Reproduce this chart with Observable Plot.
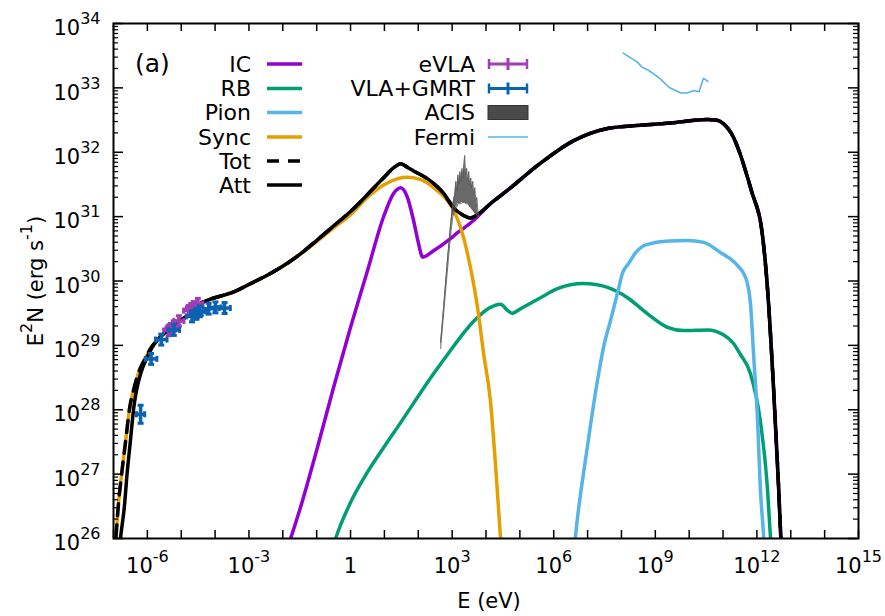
<!DOCTYPE html>
<html><head><meta charset="utf-8">
<script src="https://cdn.jsdelivr.net/npm/d3@7"></script>
<script src="https://cdn.jsdelivr.net/npm/@observablehq/plot@0.6"></script>
<style>body{margin:0;background:#fff} svg{display:block}</style>
</head><body><div id="chart"></div>
<script>
// ---- data: pairs of [log10 E (eV), log10 E^2N (erg s^-1)] ----
const icSeries = [[-1.9,25.8],[-1.77,26.0],[-1.48,26.48],[-0.98,27.41],[-0.5,28.35],[0,29.28],[0.5,30.16],[0.97,30.99],[1.27,31.36],[1.48,31.45],[1.68,31.3],[1.86,30.94],[2.0,30.6],[2.13,30.37],[2.45,30.47],[2.95,30.66],[3.16,30.75],[3.63,30.94],[3.75,31.0],[4.13,31.2],[4.64,31.41],[5.61,31.83],[6.59,32.18],[7.59,32.37],[8.56,32.42],[9.54,32.46],[10.54,32.51],[10.8,32.5],[11.0,32.45],[11.31,32.23],[11.5,31.98],[11.7,31.65],[11.9,31.3],[12.0,31.15],[12.1,30.94],[12.31,29.9],[12.49,28.35],[12.64,26.8],[12.7,26.08],[12.75,25.5]];
const rbSeries = [[-0.5,25.9],[-0.44,26.0],[0.0,26.56],[0.5,27.03],[1.0,27.43],[1.48,27.8],[2.45,28.56],[2.95,28.92],[3.16,29.07],[3.63,29.37],[4.13,29.59],[4.43,29.64],[4.64,29.54],[4.78,29.5],[5.02,29.57],[5.61,29.74],[6.11,29.88],[6.88,29.96],[7.59,29.9],[8.18,29.74],[8.77,29.49],[9.36,29.28],[9.84,29.23],[10.54,29.24],[11.0,29.17],[11.31,29.03],[11.5,28.87],[11.81,28.56],[12.1,27.83],[12.31,26.79],[12.4,26.02],[12.45,25.5]];
const pionSeries = [[6.6,25.8],[6.64,26.02],[6.99,27.41],[7.29,28.45],[7.47,28.97],[7.68,29.39],[7.9,29.85],[8.03,30.12],[8.21,30.27],[8.42,30.44],[8.6,30.53],[8.86,30.58],[9.4,30.62],[9.95,30.63],[10.43,30.6],[10.93,30.44],[11.2,30.35],[11.43,30.24],[11.67,30.05],[11.81,29.65],[11.9,28.87],[12.02,27.83],[12.1,26.79],[12.2,26.02],[12.25,25.5]];
const syncSeries = [[-6.97,25.7],[-6.93,26.0],[-6.86,26.5],[-6.76,27.0],[-6.64,27.52],[-6.52,28.04],[-6.41,28.3],[-6.27,28.56],[-6.04,28.82],[-5.88,28.97],[-5.71,29.08],[-5.41,29.23],[-5.02,29.39],[-4.73,29.49],[-4.43,29.65],[-4.23,29.7],[-3.45,29.83],[-2.95,29.96],[-2.46,30.09],[-1.97,30.24],[-1.48,30.42],[-0.98,30.62],[-0.49,30.83],[0,31.03],[0.5,31.3],[1.0,31.5],[1.4,31.59],[1.68,31.61],[2.1,31.57],[2.45,31.45],[2.86,31.25],[3.04,31.1],[3.25,30.83],[3.54,30.21],[3.75,29.59],[3.93,28.87],[4.13,28.14],[4.3,27.0],[4.43,26.0],[4.5,25.5]];
const totSeries = [[-6.97,25.7],[-6.93,26.0],[-6.86,26.5],[-6.76,27.0],[-6.64,27.52],[-6.52,28.04],[-6.41,28.3],[-6.27,28.56],[-6.04,28.82],[-5.88,28.97],[-5.71,29.08],[-5.41,29.23],[-5.02,29.39],[-4.73,29.49],[-4.43,29.65],[-4.23,29.7],[-3.45,29.83],[-2.95,29.96],[-2.46,30.09],[-1.97,30.24],[-1.48,30.42],[-0.98,30.64],[-0.49,30.86],[0,31.08],[0.97,31.6],[1.3,31.77],[1.48,31.82],[1.7,31.76],[1.86,31.71],[2.27,31.59],[2.75,31.36],[3.04,31.14],[3.3,31.03],[3.54,30.98],[3.8,31.05],[4.13,31.2],[4.64,31.41],[5.61,31.83],[6.59,32.18],[7.59,32.37],[8.56,32.42],[9.54,32.46],[10.54,32.51],[10.8,32.5],[11.0,32.45],[11.31,32.23],[11.5,31.98],[11.7,31.65],[11.9,31.3],[12.0,31.15],[12.1,30.94],[12.31,29.9],[12.49,28.35],[12.64,26.8],[12.7,26.08],[12.75,25.5]];
const attSeries = [[-6.85,25.7],[-6.79,26.02],[-6.68,26.49],[-6.60,27.0],[-6.50,27.52],[-6.40,28.04],[-6.32,28.30],[-6.20,28.56],[-6.00,28.82],[-5.86,28.97],[-5.71,29.08],[-5.41,29.23],[-5.02,29.39],[-4.73,29.49],[-4.43,29.65],[-4.23,29.7],[-3.45,29.83],[-2.95,29.96],[-2.46,30.09],[-1.97,30.24],[-1.48,30.42],[-0.98,30.64],[-0.49,30.86],[0,31.08],[0.97,31.6],[1.3,31.77],[1.48,31.82],[1.7,31.76],[1.86,31.71],[2.27,31.59],[2.75,31.36],[3.04,31.14],[3.3,31.03],[3.54,30.98],[3.8,31.05],[4.13,31.2],[4.64,31.41],[5.61,31.83],[6.59,32.18],[7.59,32.37],[8.56,32.42],[9.54,32.46],[10.54,32.51],[10.8,32.5],[11.0,32.45],[11.31,32.23],[11.5,31.98],[11.7,31.65],[11.9,31.3],[12.0,31.15],[12.1,30.94],[12.31,29.9],[12.49,28.35],[12.64,26.8],[12.7,26.08],[12.75,25.5]];
// radio points: [log10 E, log10 E^2N, half-width (dex), half-height (dex)]
const evlaPoints = [[-5.37,29.23,0.15,0.08],[-5.3,29.26,0.15,0.08],[-5.22,29.3,0.15,0.08],[-5.07,29.38,0.15,0.08],[-4.78,29.54,0.15,0.08],[-4.7,29.57,0.15,0.08],[-4.63,29.6,0.15,0.08],[-4.51,29.65,0.15,0.08]];
const vlaGmrtPoints = [[-6.2,27.93,0.12,0.14],[-5.89,28.79,0.17,0.085],[-5.59,29.09,0.17,0.085],[-5.22,29.24,0.17,0.085],[-4.68,29.45,0.17,0.085],[-4.55,29.49,0.17,0.085],[-4.45,29.53,0.17,0.085],[-4.19,29.57,0.17,0.085],[-3.99,29.59,0.17,0.085],[-3.72,29.58,0.17,0.085]];
// ACIS band: log10 E, lower, upper
const acisLogE = [2.66,2.75,2.85,2.95,3.02,3.08,3.11,3.14,3.17,3.2,3.23,3.26,3.29,3.32,3.35,3.37,3.40,3.43,3.46,3.49,3.52,3.55,3.58,3.61,3.64,3.67,3.70,3.73,3.76,3.78];
const acisHi   = [29.05,29.6,30.25,30.85,31.2,31.35,31.55,31.4,31.65,31.5,31.7,31.55,31.75,31.6,31.8,31.95,31.65,31.75,31.55,31.7,31.5,31.6,31.45,31.55,31.35,31.45,31.25,31.3,31.1,31.0];
const acisLo   = [28.95,29.5,30.1,30.7,31.0,31.1,31.15,31.15,31.2,31.2,31.2,31.2,31.22,31.22,31.22,31.22,31.2,31.2,31.2,31.18,31.15,31.15,31.12,31.1,31.08,31.05,31.05,31.02,31.0,30.98];
const fermiSeries = [[8.05,33.54],[8.32,33.45],[8.47,33.40],[8.61,33.32],[8.81,33.27],[9.15,33.14],[9.40,33.01],[9.75,32.92],[9.94,32.92],[10.14,32.96],[10.29,32.94],[10.42,33.15],[10.55,33.10]];
// ticks
const xTickExps = [-6,-3,0,3,6,9,12,15];
const yTickExps = [26,27,28,29,30,31,32,33,34];
const legendLeft = ["IC","RB","Pion","Sync","Tot","Att"];
const legendRight = ["eVLA","VLA+GMRT","ACIS","Fermi"];

const C = {IC:"#9400d3", RB:"#009e73", Pion:"#56b4e9", Sync:"#e69f00", Tot:"#000", Att:"#000", eVLA:"#a03cb4", VLA:"#0a62b0", ACIS:"#444", Fermi:"#56b4e9"};

const toObj = arr => arr.map(([e,n]) => ({E: 10**e, N: 10**n}));
const toPts = arr => arr.map(([e,n,dx,dy]) => ({E:10**e, N:10**n, x1:10**(e-dx), x2:10**(e+dx), y1:10**(n-dy), y2:10**(n+dy)}));
const acis = acisLogE.map((e,i) => ({E:10**e, lo:10**acisLo[i], hi:10**acisHi[i]}));

const vcap = {draw(ctx, size){ const l = Math.sqrt(size/Math.PI); ctx.moveTo(0,-l); ctx.lineTo(0,l); }};
const hcap = {draw(ctx, size){ const l = Math.sqrt(size/Math.PI); ctx.moveTo(-l,0); ctx.lineTo(l,0); }};

function errMarks(pts, color){
  const d = toPts(pts);
  return [
    Plot.link(d, {x1:"x1", x2:"x2", y1:"N", y2:"N", stroke:color, strokeWidth:3.5}),
    Plot.link(d, {x1:"E", x2:"E", y1:"y1", y2:"y2", stroke:color, strokeWidth:3.5}),
    Plot.dot(d, {x:"x1", y:"N", symbol:vcap, r:3, stroke:color, fill:"none", strokeWidth:3}),
    Plot.dot(d, {x:"x2", y:"N", symbol:vcap, r:3, stroke:color, fill:"none", strokeWidth:3}),
    Plot.dot(d, {x:"E", y:"y1", symbol:hcap, r:3, stroke:color, fill:"none", strokeWidth:3}),
    Plot.dot(d, {x:"E", y:"y2", symbol:hcap, r:3, stroke:color, fill:"none", strokeWidth:3})
  ];
}

const FW = 745, FH = 515;
const yMajor = yTickExps.map(k => 10**k);
const yMinor = [];
for (let k = 26; k < 34; k++) for (let m = 2; m <= 9; m++) yMinor.push(m * 10**k);
const xMajor = d3.range(-7, 16).map(k => 10**k);
const fmt = k => k === 0 ? "1" : "10^" + k;

const lineOpts = (color, extra={}) => ({x:"E", y:"N", stroke:color, strokeWidth:3.5, curve:"monotone-x", clip:true, ...extra});

const svg = Plot.plot({
  width: 885, height: 616,
  marginLeft: 113, marginRight: 27, marginTop: 23, marginBottom: 78,
  x: {type:"log", domain:[1e-7, 1e15], axis:null},
  y: {type:"log", domain:[1e26, 1e34], axis:null},
  style: {fontFamily:"DejaVu Sans", background:"white", overflow:"visible"},
  marks: [
    Plot.line(toObj(icSeries), lineOpts(C.IC)),
    Plot.line(toObj(rbSeries), lineOpts(C.RB)),
    Plot.line(toObj(pionSeries), lineOpts(C.Pion)),
    Plot.line(toObj(syncSeries), lineOpts(C.Sync)),
    Plot.line(toObj(totSeries), lineOpts(C.Tot, {strokeDasharray:"12,9"})),
    Plot.line(toObj(attSeries), lineOpts(C.Att)),
    ...errMarks(evlaPoints, C.eVLA),
    ...errMarks(vlaGmrtPoints, C.VLA),
    Plot.areaY(acis, {x:"E", y1:"lo", y2:"hi", fill:"#444", fillOpacity:0.8, clip:true}),
    Plot.line(acis, {x:"E", y:"hi", stroke:"#555", strokeWidth:0.8, clip:true}),
    Plot.line(acis, {x:"E", y:"lo", stroke:"#555", strokeWidth:0.8, clip:true}),
    Plot.line(toObj(fermiSeries), {x:"E", y:"N", stroke:C.Fermi, strokeWidth:1.6}),
    Plot.frame({stroke:"black", strokeWidth:2}),
    Plot.tickY(yMajor, {y:d=>d, insetRight:FW-10, stroke:"black", strokeWidth:1.5}),
    Plot.tickY(yMajor, {y:d=>d, insetLeft:FW-10, stroke:"black", strokeWidth:1.5}),
    Plot.tickY(yMinor, {y:d=>d, insetRight:FW-5, stroke:"black", strokeWidth:1.2}),
    Plot.tickY(yMinor, {y:d=>d, insetLeft:FW-5, stroke:"black", strokeWidth:1.2}),
    Plot.tickX(xMajor, {x:d=>d, insetTop:FH-8, stroke:"black", strokeWidth:1.5}),
    Plot.tickX(xMajor, {x:d=>d, insetBottom:FH-8, stroke:"black", strokeWidth:1.5}),
    Plot.text(xTickExps, {x:k=>10**k, frameAnchor:"bottom", dy:34, text:fmt, fontSize:21, fill:"black"}),
    Plot.text(yTickExps, {y:k=>10**k, frameAnchor:"left", textAnchor:"end", dx:-13, dy:5, text:fmt, fontSize:21, fill:"black"})
  ]
});

// superscripts for tick labels
function supify(el){
  const s = el.textContent;
  if (!s.includes("^")) return;
  const [b, e] = s.split("^");
  el.textContent = "";
  const sel = d3.select(el);
  sel.append("tspan").text(b);
  sel.append("tspan").attr("dy", -11).attr("font-size", 16).text(e);
}
d3.select(svg).selectAll("text").each(function(){ supify(this); });

const root = d3.select(svg);
function richText(g, pieces){
  let sup = false;
  for (const [t, isSup] of pieces){
    const ts = g.append("tspan").text(t);
    if (isSup && !sup) ts.attr("dy", -11).attr("font-size", 16);
    else if (isSup) ts.attr("font-size", 16);
    else if (!isSup && sup) ts.attr("dy", 11);
    sup = isSup;
  }
}
// axis titles
root.append("text").attr("x", 489).attr("y", 608).attr("text-anchor","middle").attr("font-size",21).attr("font-family","DejaVu Sans").text("E (eV)");
const yt = root.append("text").attr("transform","translate(43,281) rotate(-90)").attr("text-anchor","middle").attr("font-size",21).attr("font-family","DejaVu Sans");
richText(yt, [["E",false],["2",true],["N (erg s",false],["-1",true],[")",false]]);

// panel label
root.append("text").attr("x",135).attr("y",72).attr("text-anchor","start").attr("font-size",25).attr("font-family","DejaVu Sans").text("(a)");

// legend
const rows = [64, 88.5, 112.5, 137, 161, 185];
const lg = root.append("g").attr("font-family","DejaVu Sans").attr("font-size",22);
legendLeft.forEach((name, i) => {
  lg.append("text").attr("x",251).attr("y",rows[i]).attr("text-anchor","end").attr("dominant-baseline","central").text(name);
  const l = lg.append("line").attr("x1",267).attr("x2",302).attr("y1",rows[i]).attr("y2",rows[i]).attr("stroke",C[name]).attr("stroke-width",3.5);
  if (name === "Tot") l.attr("stroke-dasharray","12,9");
});
legendRight.forEach((name, i) => {
  const y = rows[i];
  lg.append("text").attr("x",475).attr("y",y).attr("text-anchor","end").attr("dominant-baseline","central").text(name);
  if (name === "eVLA" || name === "VLA+GMRT"){
    const c = name === "eVLA" ? C.eVLA : C.VLA;
    lg.append("line").attr("x1",488).attr("x2",528).attr("y1",y).attr("y2",y).attr("stroke",c).attr("stroke-width",3);
    for (const x of [489, 527]) lg.append("line").attr("x1",x).attr("x2",x).attr("y1",y-5).attr("y2",y+5).attr("stroke",c).attr("stroke-width",2.5);
    lg.append("line").attr("x1",508).attr("x2",508).attr("y1",y-6).attr("y2",y+6).attr("stroke",c).attr("stroke-width",3);
  } else if (name === "ACIS"){
    lg.append("rect").attr("x",488).attr("y",y-7).attr("width",40).attr("height",14).attr("fill","#4a4a4a").attr("stroke","#333").attr("stroke-width",1);
  } else {
    lg.append("line").attr("x1",488).attr("x2",528).attr("y1",y).attr("y2",y).attr("stroke",C.Fermi).attr("stroke-width",1.6);
  }
});

document.getElementById("chart").appendChild(svg);
</script>
</body></html>
